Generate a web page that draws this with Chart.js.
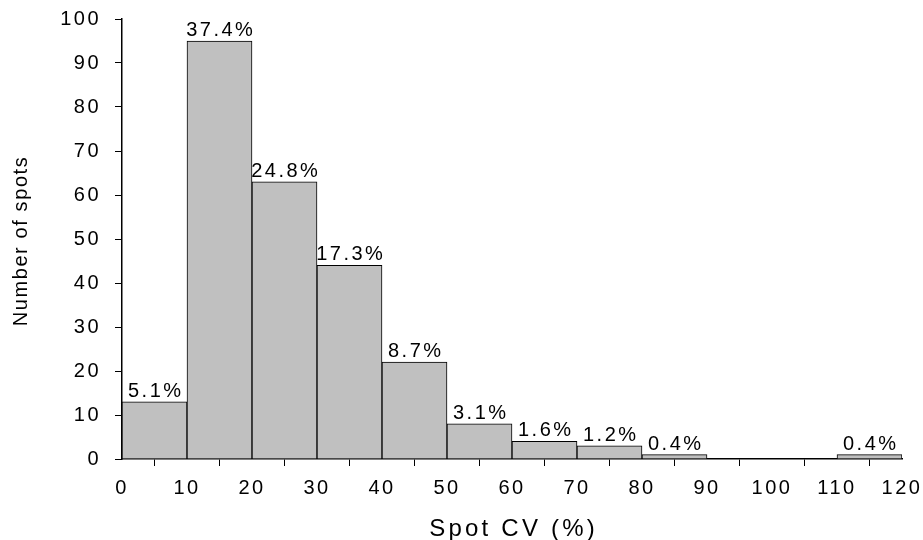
<!DOCTYPE html>
<html>
<head>
<meta charset="utf-8">
<script src="https://cdn.jsdelivr.net/npm/chart.js@4.4.1/dist/chart.umd.min.js"></script>
<style>
  html, body { margin: 0; padding: 0; background: #fff; }
  #wrap { width: 923px; height: 540px; position: relative; }
</style>
</head>
<body>
<div id="wrap"><canvas id="c" width="923" height="540"></canvas></div>
<script>
// Histogram of spot coefficient of variation, 10%-wide bins
const binStarts = [0, 10, 20, 30, 40, 50, 60, 70, 80, 90, 100, 110];
const binWidth = 10;
const spotCounts = [13, 95, 63, 44, 22, 8, 4, 3, 1, 0, 0, 1];
const xTicks = [0, 10, 20, 30, 40, 50, 60, 70, 80, 90, 100, 110, 120];
const yTicks = [0, 10, 20, 30, 40, 50, 60, 70, 80, 90, 100];
const xTitle = 'Spot CV (%)';
const yTitle = 'Number of spots';

const totalSpots = spotCounts.reduce((a, b) => a + b, 0);
const points = binStarts.map((s, i) => ({ x: s + binWidth / 2, y: spotCounts[i] }));

const FONT = "'Liberation Sans', Arial, sans-serif";
const TRACK = 2.5;

// Wide tracking on the tick labels
const spacingPlugin = {
  id: 'spacing',
  beforeLayout(chart) { chart.ctx.letterSpacing = TRACK + 'px'; },
  beforeDraw(chart) { chart.ctx.letterSpacing = TRACK + 'px'; }
};

// Percentage of all spots above each non-empty bin, plus the axis titles
const annotations = {
  id: 'annotations',
  afterDraw(chart) {
    const ctx = chart.ctx;
    const area = chart.chartArea;
    const meta = chart.getDatasetMeta(0);
    ctx.save();
    ctx.fillStyle = '#000';
    ctx.letterSpacing = TRACK + 'px';
    ctx.font = '20px ' + FONT;
    ctx.textAlign = 'center';
    ctx.textBaseline = 'alphabetic';
    meta.data.forEach((bar, i) => {
      if (!spotCounts[i]) return;
      const pct = (spotCounts[i] / totalSpots * 100).toFixed(1) + '%';
      ctx.fillText(pct, bar.x + TRACK / 2, bar.y - 5);
    });

    // x axis title
    ctx.letterSpacing = '3.2px';
    ctx.font = '24px ' + FONT;
    ctx.fillText(xTitle, (area.left + area.right) / 2 + 1.6, 536);

    // y axis title
    ctx.letterSpacing = '1.6px';
    ctx.font = '20px ' + FONT;
    ctx.translate(27, (area.top + area.bottom) / 2 + 2);
    ctx.rotate(-Math.PI / 2);
    ctx.fillText(yTitle, 0, 0);
    ctx.restore();
  }
};

new Chart(document.getElementById('c'), {
  type: 'bar',
  data: {
    datasets: [{
      data: points,
      backgroundColor: '#c0c0c0',
      borderColor: '#000',
      borderWidth: 1,
      borderSkipped: 'start',
      barPercentage: 1,
      categoryPercentage: 1
    }]
  },
  options: {
    responsive: false,
    animation: false,
    events: [],
    layout: { padding: { top: 19, right: 21, left: 0, bottom: 0 } },
    plugins: { legend: { display: false }, tooltip: { enabled: false } },
    scales: {
      x: {
        type: 'linear',
        min: 0, max: 120,
        offset: false,
        afterBuildTicks(scale) { scale.ticks = xTicks.map(v => ({ value: v })); },
        afterFit(scale) { scale.height = 81; scale.paddingLeft = 0; scale.paddingRight = 0; },
        grid: { drawOnChartArea: false, drawTicks: true, tickLength: 7, tickColor: '#000', tickWidth: 1 },
        border: { display: true, color: '#000', width: 1.5 },
        ticks: { color: '#000', font: { family: FONT, size: 20 }, padding: 10, maxRotation: 0, autoSkip: false }
      },
      y: {
        min: 0, max: 100,
        afterBuildTicks(scale) { scale.ticks = yTicks.map(v => ({ value: v })); },
        afterFit(scale) { scale.width = 122; scale.paddingTop = 0; scale.paddingBottom = 0; },
        grid: { drawOnChartArea: false, drawTicks: true, tickLength: 7, tickColor: '#000', tickWidth: 1 },
        border: { display: true, color: '#000', width: 1.5 },
        ticks: { color: '#000', font: { family: FONT, size: 20 }, padding: 14 }
      }
    }
  },
  plugins: [spacingPlugin, annotations]
});
</script>
</body>
</html>
